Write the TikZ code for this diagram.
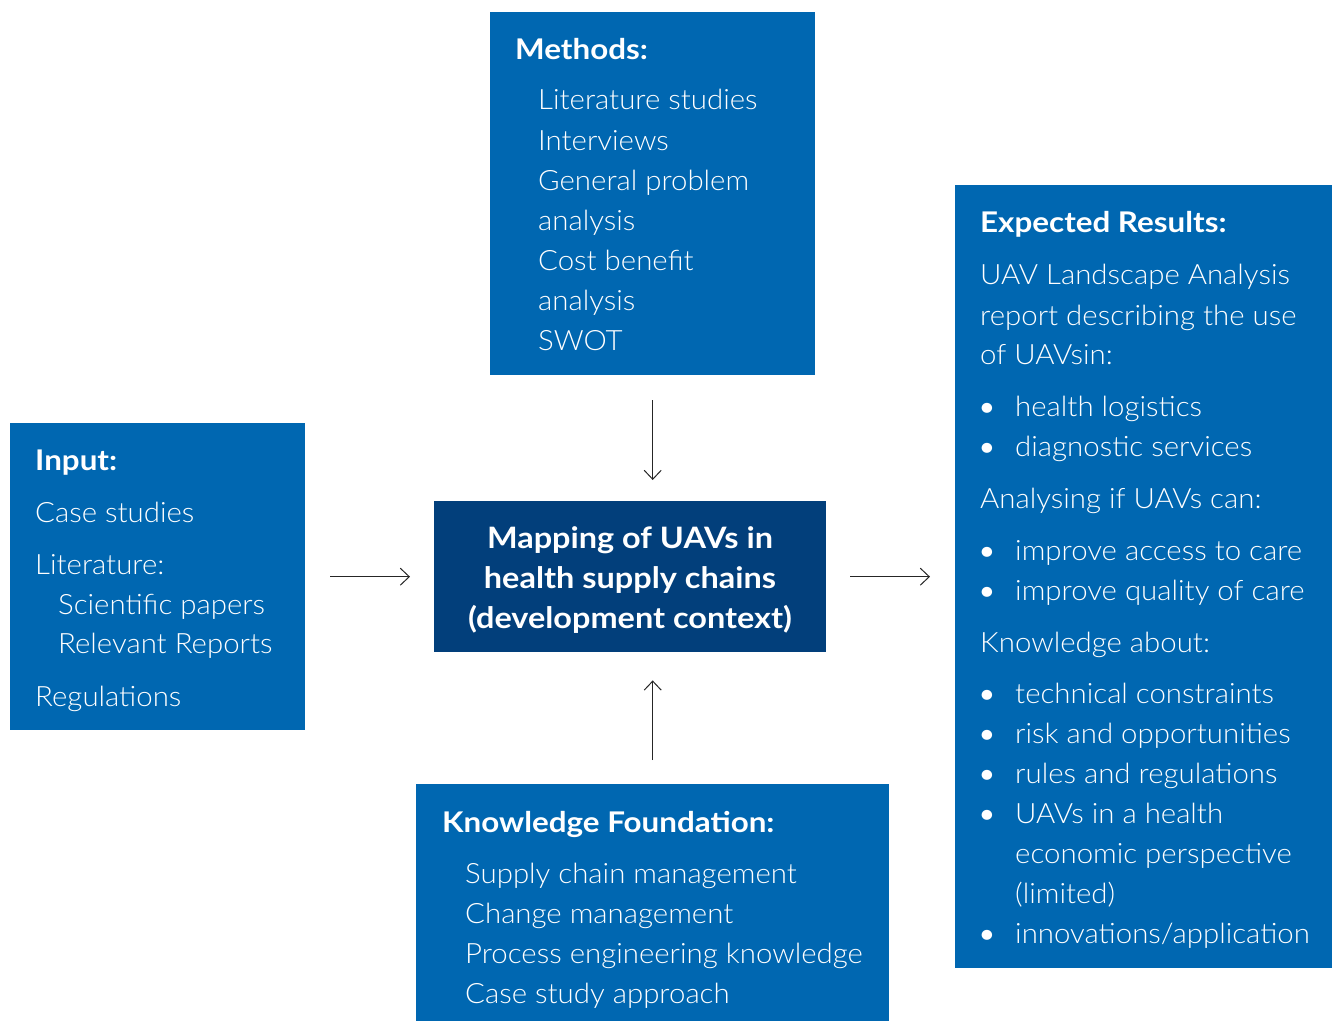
\documentclass[tikz,border=0pt]{standalone}
\usepackage{fontspec}
\setmainfont{Lato Light}[BoldFont={Lato Bold}, FakeStretch=1.05]
\newfontfamily\hdrfont{Lato Bold}[FakeStretch=1.1]
\usetikzlibrary{arrows.meta}
\definecolor{boxblue}{HTML}{0067B1}
\definecolor{darkblue}{HTML}{023F7B}
\begin{document}
\begin{tikzpicture}[x=1pt,y=-1pt,
 box/.style={fill=boxblue, draw=none, inner sep=0pt, anchor=north west},
 txt/.style={anchor=base west, inner sep=0pt, text=white, font=\fontsize{28}{40}\selectfont},
 hdr/.style={anchor=base west, inner sep=0pt, text=white, font=\hdrfont\fontsize{28.5}{40}\selectfont},
 ctr/.style={anchor=base, inner sep=0pt, text=white, font=\hdrfont\fontsize{29.5}{40}\selectfont},
 bul/.style={anchor=base, inner sep=0pt, text=white, font=\fontsize{34}{40}\selectfont},
 arr/.style={draw=black!85, line width=1pt, -{Straight Barb[length=9pt,width=17pt]}}]
\useasboundingbox (0,0) rectangle (1332,1022);

% boxes
\node[box, minimum width=325pt, minimum height=363pt] (methods) at (490,12) {};
\node[box, minimum width=377pt, minimum height=783pt] (results) at (955,185) {};
\node[box, minimum width=295pt, minimum height=307pt] (input) at (10,423) {};
\node[box, fill=darkblue, minimum width=392pt, minimum height=151pt] (center) at (434,501) {};
\node[box, minimum width=473pt, minimum height=237pt] (knowledge) at (416,784) {};

% methods
\node[hdr] (m0) at (515,60) {Methods:};
\node[txt] (m1) at (538,110) {Literature studies};
\node[txt] (m2) at (538,150) {Interviews};
\node[txt] (m3) at (538,190) {General problem};
\node[txt] (m4) at (538,230) {analysis};
\node[txt] (m5) at (538,270) {Cost benefit};
\node[txt] (m6) at (538,310) {analysis};
\node[txt] (m7) at (538,350) {SWOT};

% input
\node[hdr] (i0) at (35,470) {Input:};
\node[txt] (i1) at (35,522) {Case studies};
\node[txt] (i2) at (35,574) {Literature:};
\node[txt] (i3) at (58,614) {Scientific papers};
\node[txt] (i4) at (58,653) {Relevant Reports};
\node[txt] (i5) at (35,706) {Regulations};

% center
\node[ctr] (c1) at (630,548) {Mapping of UAVs in};
\node[ctr] (c2) at (630,588) {health supply chains};
\node[ctr] (c3) at (630,628) {(development context)};

% knowledge
\node[hdr] (k0) at (442,832) {Knowledge Foundation:};
\node[txt] (k1) at (465,883) {Supply chain management};
\node[txt] (k2) at (465,923) {Change management};
\node[txt] (k3) at (465,963) {Process engineering knowledge};
\node[txt] (k4) at (465,1003) {Case study approach};

% results
\node[hdr] (r0) at (980,232) {Expected Results:};
\node[txt] (r1) at (980,284) {UAV Landscape Analysis};
\node[txt] (r2) at (980,325) {report describing the use};
\node[txt] (r3) at (980,364) {of UAVsin:};
\node[bul] (b1) at (987,418) {•};
\node[txt] (r4) at (1015,416) {health logistics};
\node[bul] (b2) at (987,458) {•};
\node[txt] (r5) at (1015,456) {diagnostic services};
\node[txt] (r6) at (980,508) {Analysing if UAVs can:};
\node[bul] (b3) at (987,562) {•};
\node[txt] (r7) at (1015,560) {improve access to care};
\node[bul] (b4) at (987,602) {•};
\node[txt] (r8) at (1015,600) {improve quality of care};
\node[txt] (r9) at (980,652) {Knowledge about:};
\node[bul] (b5) at (987,705) {•};
\node[txt] (r10) at (1015,703) {technical constraints};
\node[bul] (b6) at (987,745) {•};
\node[txt] (r11) at (1015,743) {risk and opportunities};
\node[bul] (b7) at (987,785) {•};
\node[txt] (r12) at (1015,783) {rules and regulations};
\node[bul] (b8) at (987,825) {•};
\node[txt] (r13) at (1015,823) {UAVs in a health};
\node[txt] (r14) at (1015,863) {economic perspective};
\node[txt] (r15) at (1015,903) {(limited)};
\node[bul] (b9) at (987,945) {•};
\node[txt] (r16) at (1015,943) {innovations/application};

% arrows
\draw[arr, shorten <=25pt, shorten >=21pt] (methods.south) -- (methods.south |- center.north);
\draw[arr, shorten <=24pt, shorten >=28pt] (knowledge.north) -- (knowledge.north |- center.south);
\draw[arr, shorten <=25pt, shorten >=24pt] (input.east) -- (center.west);
\draw[arr, shorten <=24pt, shorten >=25pt] (center.east) -- (results.west |- center.east);
\end{tikzpicture}
\end{document}
